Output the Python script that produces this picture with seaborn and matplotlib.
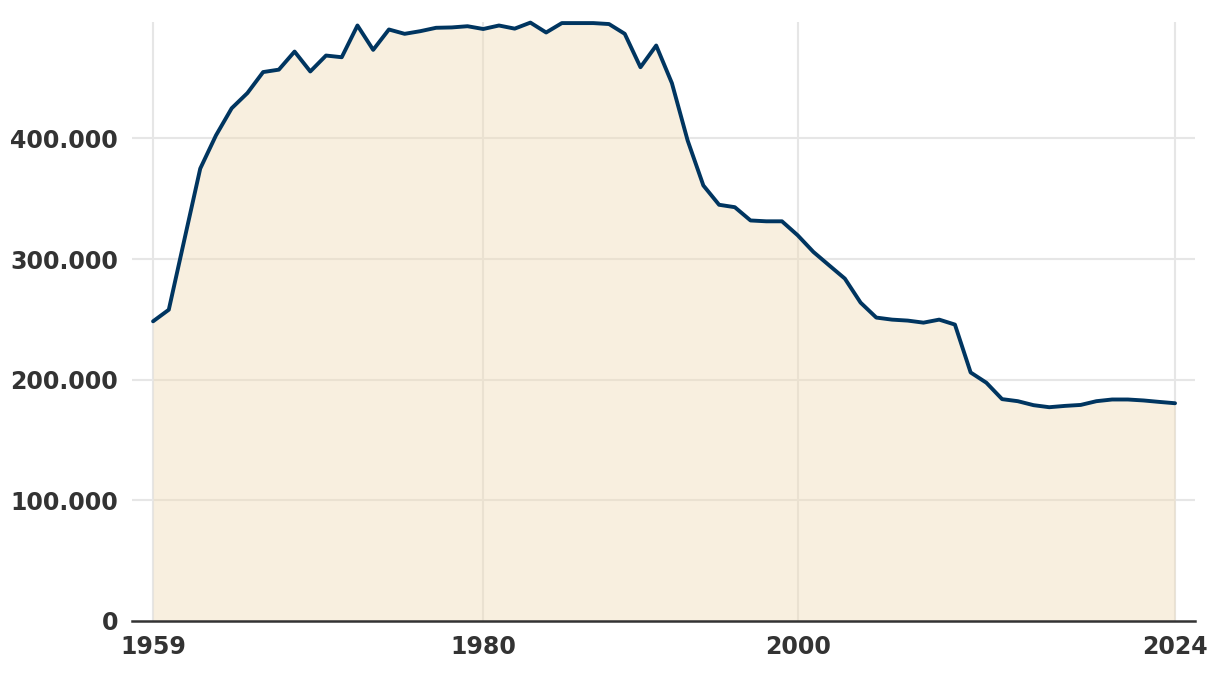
import seaborn as sns
import matplotlib.pyplot as plt
import pandas as pd
from matplotlib.ticker import FuncFormatter

# Values (one per year, 1959-2024)
years = list(range(1959, 2025))
values = [
    248400, 258000, 316600, 375000, 402500, 425000, 437600, 455000, 457000, 472000,
    455500, 468700, 467300, 493600, 473400, 490300, 486700, 488900, 491700, 492000,
    493000, 490700, 493600, 491000, 496000, 487800, 495600, 495600, 495600, 494800,
    486700, 459000, 477000, 445800, 398300, 361000, 345000, 343000, 332000, 331300,
    331300, 319700, 305900, 294800, 283800, 263900, 251500, 249800, 249000, 247300,
    249800, 245700, 206000, 197500, 183900, 182200, 178900, 177200, 178300, 179100,
    182200, 183600, 183600, 182800, 181600, 180500,
]
x_ticks = [1959, 1980, 2000, 2024]
y_ticks = [0, 100000, 200000, 300000, 400000]

df = pd.DataFrame({"year": years, "value": values})

sns.set_theme(style="white")
plt.rcParams["font.family"] = ["DejaVu Sans"]

fig = plt.figure(figsize=(12.2, 6.74), dpi=100)
ax = fig.add_axes([132 / 1220, 1 - 621 / 674, (1195 - 132) / 1220, (621 - 22) / 674])

grid_col = "#e6e6e6"
for yt in y_ticks[1:]:
    ax.axhline(yt, color=grid_col, lw=1.5, zorder=0)
for xt in x_ticks:
    ax.axvline(xt, color=grid_col, lw=1.5, zorder=0)

ax.fill_between(df["year"], df["value"], 0, color=(240 / 255, 219 / 255, 180 / 255),
                alpha=0.42, lw=0, zorder=1)
sns.lineplot(data=df, x="year", y="value", color="#003560", linewidth=2.8, ax=ax,
             zorder=3, clip_on=False)

ax.set_xlim(1957.66, 2025.27)
ax.set_ylim(0, 496500)
ax.set_xticks(x_ticks)
ax.set_yticks(y_ticks)
ax.yaxis.set_major_formatter(FuncFormatter(lambda v, p: f"{v:,.0f}".replace(",", ".")))
ax.set_xlabel("")
ax.set_ylabel("")

for side in ["top", "right", "left"]:
    ax.spines[side].set_visible(False)
ax.spines["bottom"].set_color("#333333")
ax.spines["bottom"].set_linewidth(1.8)
ax.spines["bottom"].set_zorder(4)

ax.tick_params(axis="both", length=0, labelsize=17, labelcolor="#333333")
ax.tick_params(axis="y", pad=10)
ax.tick_params(axis="x", pad=10)
for lab in ax.get_xticklabels() + ax.get_yticklabels():
    lab.set_fontweight("bold")

fig.savefig("out.png", dpi=100, facecolor="white")
